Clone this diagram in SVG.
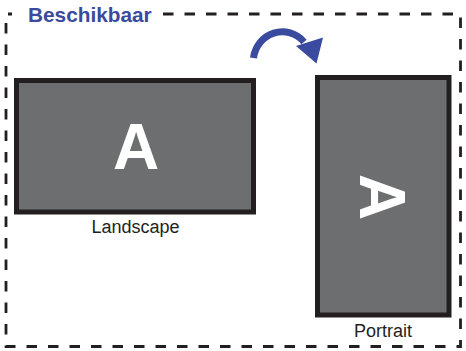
<svg xmlns="http://www.w3.org/2000/svg" width="466" height="351" viewBox="0 0 466 351">
<style>
.frame{fill:none;stroke:#231f20;stroke-width:2.8;stroke-dasharray:10.5 11}
.screen{fill:#6d6e70;stroke:#231f20;stroke-width:5}
.big{font-family:"Liberation Sans",Arial,sans-serif;font-weight:bold;font-size:64px;fill:#ffffff;text-anchor:middle}
.lbl{font-family:"Liberation Sans",Arial,sans-serif;font-size:18px;fill:#231f20;text-anchor:middle}
.title{font-family:"Liberation Sans",Arial,sans-serif;font-weight:bold;font-size:20.8px;fill:#3a4a9e}
</style>
<rect width="466" height="351" fill="#ffffff"/>
<g id="frame">
<path class="frame" d="M 163 14 H 460.5 V 346.5 H 6 V 14 H 12"/>
<text class="title" x="28" y="22">Beschikbaar</text>
</g>
<g id="landscape">
<rect class="screen" x="16.5" y="80.5" width="237" height="131.5"/>
<text class="big" x="136" y="169">A</text>
<text class="lbl" x="135.5" y="233">Landscape</text>
</g>
<g id="portrait">
<rect class="screen" x="317.5" y="77.5" width="131.5" height="237.5"/>
<text class="big" transform="translate(360 197) rotate(90)" x="0" y="0">A</text>
<text class="lbl" x="383" y="337">Portrait</text>
</g>
<g id="connectors">
<path d="M 253.5 58 A 29 30 0 0 1 304 42" fill="none" stroke="#3a4a9e" stroke-width="7"/>
<polygon points="296,46 323,37.5 316.5,63.5" fill="#3a4a9e"/>
</g>
</svg>
